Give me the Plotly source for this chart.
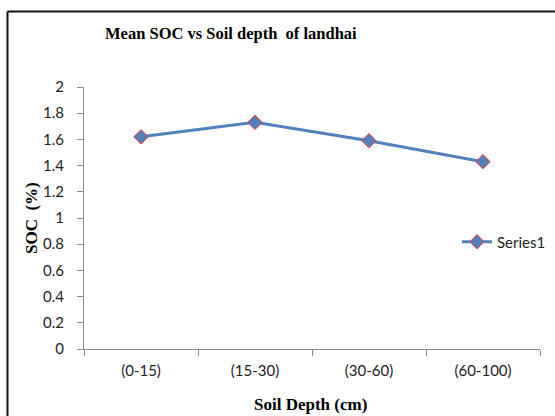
import plotly.graph_objects as go

categories = ["(0-15)", "(15-30)", "(30-60)", "(60-100)"]
soc_values = [1.62, 1.73, 1.59, 1.43]
y_ticks = [0, 0.2, 0.4, 0.6, 0.8, 1, 1.2, 1.4, 1.6, 1.8, 2]
y_tick_labels = ["0", "0.2", "0.4", "0.6", "0.8", "1", "1.2", "1.4", "1.6", "1.8", "2"]

fig = go.Figure()
fig.add_trace(go.Scatter(
    x=categories, y=soc_values, mode="lines+markers", name="Series1",
    line=dict(color="#4F81BD", width=3),
    marker=dict(symbol="diamond", size=11, color="#4F81BD",
                line=dict(color="#FF3030", width=1)),
))

W, H = 555, 416
L, R, T, B = 84, 15, 87, 67
pw, ph = W - L - R, H - T - B

def px2fx(px):
    return (px - L) / pw

def py2fy(py):
    return (H - B - py) / ph

tick_font = dict(family="Lato, Calibri, sans-serif", size=15, color="#222222")
title_font = dict(family="Liberation Serif, Times New Roman, serif", size=16.5, color="#000000")
axis_title_font = dict(family="Liberation Serif, Times New Roman, serif", size=17, color="#000000")

fig.update_layout(
    width=W, height=H,
    margin=dict(l=L, r=R, t=T, b=B, autoexpand=False),
    paper_bgcolor="white", plot_bgcolor="white",
    showlegend=True,
    legend=dict(x=px2fx(457), y=py2fy(242), xanchor="left", yanchor="middle",
                font=tick_font, bgcolor="rgba(0,0,0,0)", itemwidth=30),
    xaxis=dict(type="category", range=[-0.5, 3.5], showgrid=False, zeroline=False,
               showline=True, linecolor="#8C8C8C", linewidth=1,
               ticks="outside", ticklen=6, tickcolor="#8C8C8C", tickson="boundaries",
               tickfont=tick_font, ticklabelstandoff=8, automargin=False),
    yaxis=dict(range=[0, 2], showgrid=False, zeroline=False,
               showline=True, linecolor="#8C8C8C", linewidth=1,
               ticks="outside", ticklen=6, tickcolor="#8C8C8C",
               tickvals=y_ticks, ticktext=y_tick_labels,
               tickfont=tick_font, ticklabelstandoff=10, automargin=False),
    annotations=[
        dict(text="<b>Mean SOC vs Soil depth  of landhai</b>", x=px2fx(231), y=py2fy(33),
             xref="paper", yref="paper", showarrow=False, font=title_font,
             xanchor="center", yanchor="middle"),
        dict(text="<b>SOC  (%)</b>", x=px2fx(31), y=py2fy(218), textangle=-90,
             xref="paper", yref="paper", showarrow=False, font=axis_title_font,
             xanchor="center", yanchor="middle"),
        dict(text="<b>Soil Depth (cm)</b>", x=px2fx(310), y=py2fy(404),
             xref="paper", yref="paper", showarrow=False, font=axis_title_font,
             xanchor="center", yanchor="middle"),
    ],
    shapes=[
        dict(type="line", xref="paper", yref="paper",
             x0=px2fx(7.5), x1=px2fx(560), y0=py2fy(11.5), y1=py2fy(11.5),
             line=dict(color="#111111", width=2)),
        dict(type="line", xref="paper", yref="paper",
             x0=px2fx(7.5), x1=px2fx(7.5), y0=py2fy(11.5), y1=py2fy(420),
             line=dict(color="#111111", width=2)),
    ],
)

fig.write_html(
    "out.html",
    config={"displayModeBar": False},
    post_script="document.body.style.margin='0';document.body.style.overflow='hidden';",
)
